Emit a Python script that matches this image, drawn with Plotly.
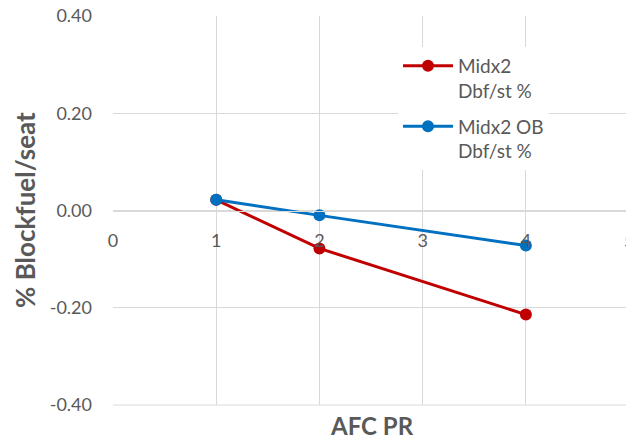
import plotly.graph_objects as go

x_vals = [1, 2, 4]
midx2 = [0.022, -0.078, -0.214]
midx2_ob = [0.022, -0.010, -0.072]
series_names = ["Midx2<br>Dbf/st %", "Midx2 OB<br>Dbf/st %"]
y_ticks = [-0.4, -0.2, 0.0, 0.2, 0.4]
y_tick_text = ["-0.40", "-0.20", "0.00", "0.20", "0.40"]
x_ticks = [0, 1, 2, 3, 4]

grey = "#595959"
grid = "#d9d9d9"
font_family = "Lato, 'Open Sans', sans-serif"

fig = go.Figure()
fig.add_trace(go.Scatter(x=x_vals, y=midx2, mode="lines+markers", name=series_names[0],
                         legendgroup="g1",
                         line=dict(color="#c00000", width=3), marker=dict(size=12, color="#c00000")))
fig.add_trace(go.Scatter(x=x_vals, y=midx2_ob, mode="lines+markers", name=series_names[1],
                         legendgroup="g2",
                         line=dict(color="#0070c0", width=3), marker=dict(size=12, color="#0070c0")))

fig.update_layout(
    width=626, height=440,
    margin=dict(l=113, r=0, t=16, b=35),
    paper_bgcolor="white", plot_bgcolor="white",
    font=dict(family=font_family, color=grey, size=18),
    xaxis=dict(range=[0, 4.97], tickvals=x_ticks, showgrid=True, gridcolor=grid, gridwidth=1,
               zeroline=False, showline=True, linecolor=grid, linewidth=1,
               anchor="free", position=0.5, ticks="", ticklabelstandoff=14,
               tickfont=dict(size=18, color=grey)),
    yaxis=dict(range=[-0.4, 0.4], tickvals=y_ticks, ticktext=y_tick_text, showgrid=True,
               gridcolor=grid, gridwidth=1, zeroline=False, showline=False,
               ticks="", ticklabelstandoff=20, tickfont=dict(size=18, color=grey)),
    showlegend=True,
    legend=dict(x=(398 - 113) / 513, y=(405 - 47) / 389, xanchor="left", yanchor="top",
                bgcolor="white", font=dict(size=19, color=grey), itemwidth=50,
                tracegroupgap=8, valign="top"),
)

fig.add_shape(type="line", xref="paper", yref="paper", x0=0, x1=1, y0=0, y1=0,
              line=dict(color=grid, width=1))

fig.add_annotation(text="<b>AFC PR</b>", xref="paper", yref="paper", x=(372 - 113) / 513,
                   y=-(425 - 405) / 389, showarrow=False, xanchor="center", yanchor="middle",
                   font=dict(size=24, color=grey, family=font_family))
fig.add_annotation(text="<b>% Blockfuel/seat</b>", xref="paper", yref="paper",
                   x=(25 - 113) / 513, y=(405 - 210) / 389, showarrow=False, textangle=-90,
                   xanchor="center", yanchor="middle",
                   font=dict(size=26, color=grey, family=font_family))
fig.add_annotation(text="5", xref="paper", yref="paper", x=(629 - 113) / 513,
                   y=(405 - 240) / 389, showarrow=False, xanchor="center", yanchor="middle",
                   font=dict(size=18, color=grey, family=font_family))

fig.write_html("out.html")
